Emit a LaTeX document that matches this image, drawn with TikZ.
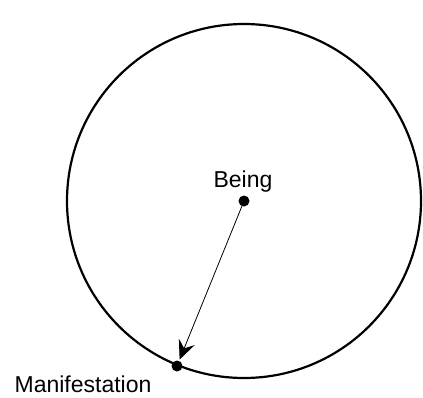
\documentclass[tikz,border=0pt]{standalone}
\usepackage{fontspec}
\setmainfont{Liberation Sans}
\usetikzlibrary{arrows.meta,calc}

\begin{document}
\begin{tikzpicture}[x=1pt,y=-1pt,
  label text/.style={font=\fontsize{23}{27}\selectfont, inner sep=0pt, anchor=base}]
  \useasboundingbox (0,0) rectangle (423,397);
  \coordinate (B) at (244,201);
  \coordinate (M) at (177,366);

  \draw[line width=2.2pt] (B) circle (177);
  \fill (B) circle (5.5);
  \fill (M) circle (5.5);
  \draw[line width=0.8pt, shorten >=7pt, -{Stealth[length=19pt,width=17pt,inset=7pt]}] (B) -- (M);

  \node[label text] (being) at (243,187) {Being};
  \node[label text] (manif) at (83,392) {Manifestation};
\end{tikzpicture}
\end{document}
